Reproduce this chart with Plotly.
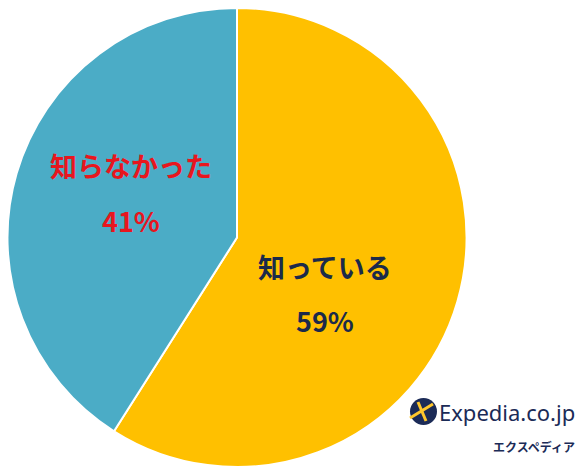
import plotly.graph_objects as go

labels = ["知っている", "知らなかった"]
values = [59, 41]
colors = ["#FFC000", "#4BACC6"]
text_colors = ["#1B2A4A", "#E8161E"]

W, H = 582, 467

fig = go.Figure(go.Pie(
    labels=labels,
    values=values,
    sort=False,
    direction="clockwise",
    rotation=0,
    marker=dict(colors=colors, line=dict(color="white", width=2)),
    textinfo="none",
    hoverinfo="label+percent",
    showlegend=False,
    domain=dict(x=[7 / W, 467 / W], y=[0.0, 0.983]),
))

font_family = "Noto Sans CJK JP"
def px(x):
    return x / W
def py(y):
    return 1 - y / H

# label positions (paper coords): x, y of name, y of percent
label_pos = [(325, 266, 320), (131, 165, 220)]
for lab, val, col, (x, y1, y2) in zip(labels, values, text_colors, label_pos):
    fig.add_annotation(x=px(x), y=py(y1), xref="paper", yref="paper", text=f"<b>{lab}</b>",
                       showarrow=False, yanchor="middle", xanchor="center",
                       font=dict(family=font_family, size=27, color=col))
    fig.add_annotation(x=px(x), y=py(y2), xref="paper", yref="paper", text=f"<b>{val}%</b>",
                       showarrow=False, yanchor="middle", xanchor="center",
                       font=dict(family=font_family, size=27, color=col))

# Logo
navy = "#1B2B57"
gold = "#FFC72C"
fig.add_shape(type="circle", xref="paper", yref="paper",
              x0=px(410), x1=px(437), y0=py(425), y1=py(398),
              fillcolor=navy, line=dict(width=0))
# stylised plane
fig.add_shape(type="line", xref="paper", yref="paper",
              x0=px(410), y0=py(418), x1=px(433), y1=py(404),
              line=dict(color=gold, width=3))
fig.add_shape(type="line", xref="paper", yref="paper",
              x0=px(418), y0=py(402), x1=px(426), y1=py(421),
              line=dict(color=gold, width=3))
fig.add_annotation(x=px(577), y=py(412), xref="paper", yref="paper", text="Expedia.co.jp",
                   xanchor="right", yanchor="middle", showarrow=False,
                   font=dict(family="Noto Sans", size=22, color=navy))
fig.add_annotation(x=px(577), y=py(446), xref="paper", yref="paper", text="<b>エクスペディア</b>",
                   xanchor="right", yanchor="middle", showarrow=False,
                   font=dict(family=font_family, size=12, color=navy))

fig.update_layout(width=W, height=H, margin=dict(l=0, r=0, t=0, b=0),
                  paper_bgcolor="white", plot_bgcolor="white")
fig.write_html("out.html", config={"displayModeBar": False},
               post_script="document.body.style.margin='0';document.body.style.overflow='hidden';")
